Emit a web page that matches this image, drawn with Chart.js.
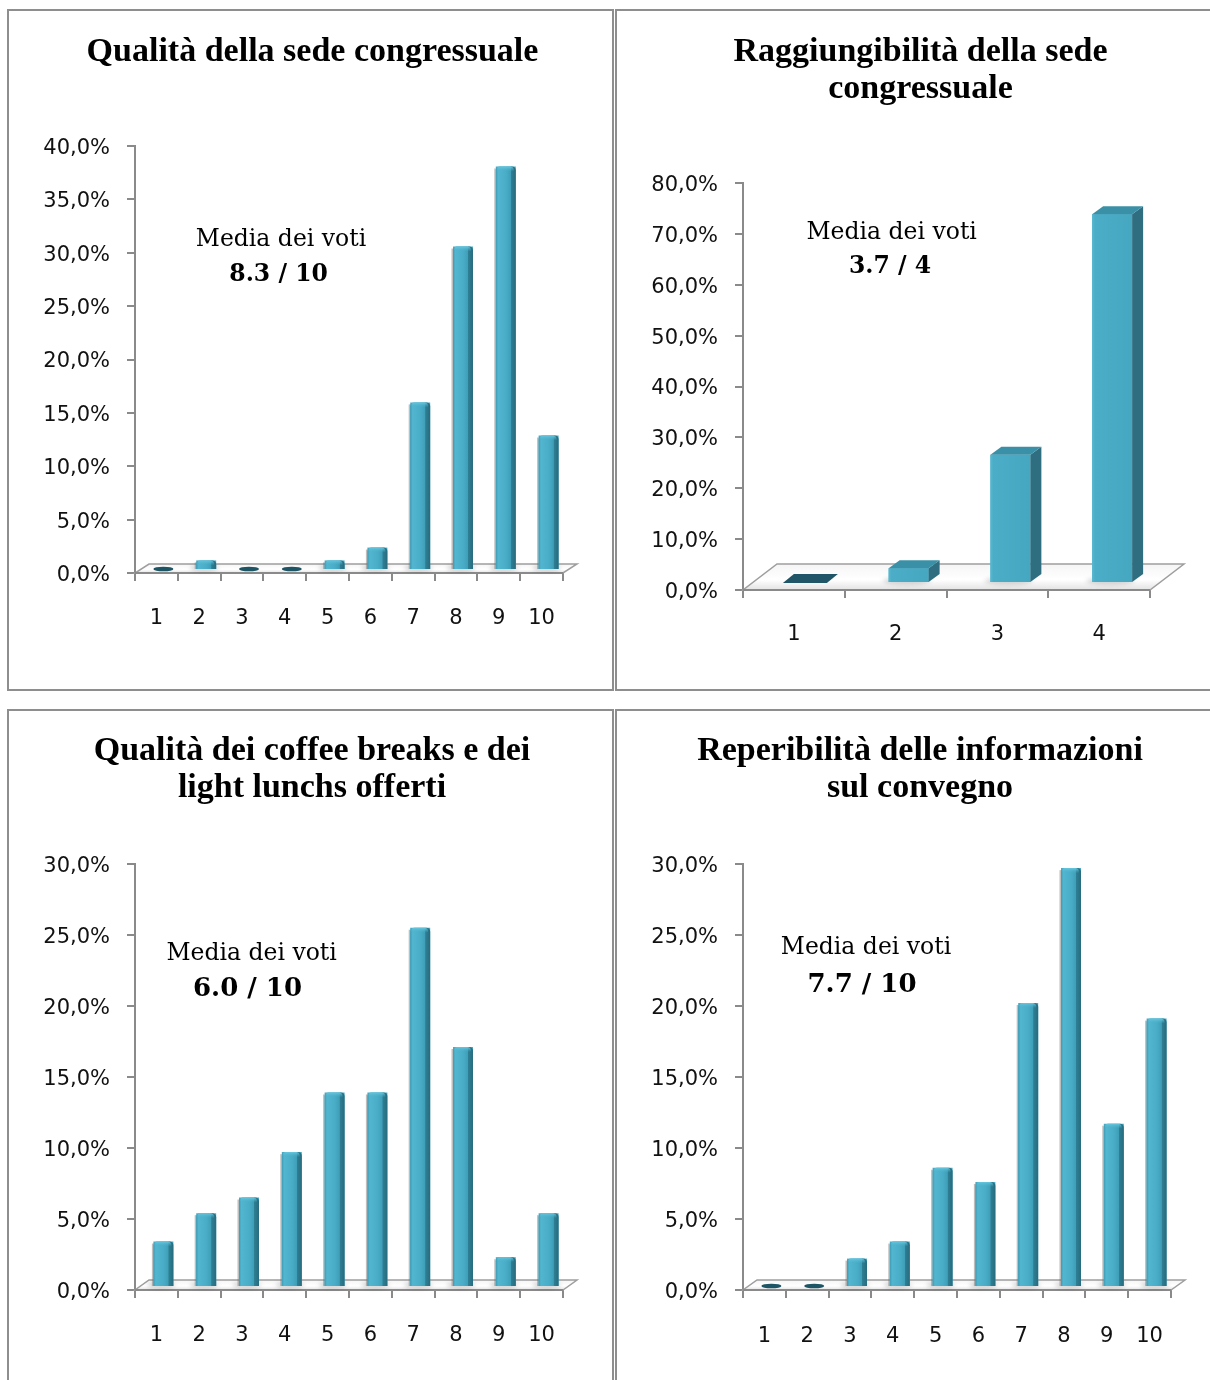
<!DOCTYPE html>
<html><head><meta charset="utf-8">
<script src="https://cdn.jsdelivr.net/npm/chart.js@4"></script>
<style>
html,body{margin:0;padding:0;background:#fff;overflow:hidden;width:1210px;height:1380px;}
.panel{position:absolute;overflow:hidden;}
.frame{position:absolute;border:2px solid #8e8e8e;box-sizing:border-box;pointer-events:none;}
canvas{position:absolute;left:0;top:0;}
</style></head><body>
<div class="panel" style="left:8px;top:10px;width:606px;height:680px"><canvas id="c1" width="606" height="680"></canvas></div>
<div class="panel" style="left:616px;top:10px;width:606px;height:680px"><canvas id="c2" width="606" height="680"></canvas></div>
<div class="panel" style="left:8px;top:709px;width:606px;height:671px"><canvas id="c3" width="606" height="671"></canvas></div>
<div class="panel" style="left:616px;top:709px;width:606px;height:671px"><canvas id="c4" width="606" height="671"></canvas></div>
<div class="frame" style="left:7px;top:9px;width:607px;height:682px"></div>
<div class="frame" style="left:615px;top:9px;width:610px;height:682px"></div>
<div class="frame" style="left:7px;top:709px;width:607px;height:700px"></div>
<div class="frame" style="left:615px;top:709px;width:610px;height:700px"></div>
<script>
// ---------------- DATA ----------------
const categories10 = ['1','2','3','4','5','6','7','8','9','10'];
const categories4 = ['1','2','3','4'];
const sedeValues = [0, 0.9, 0, 0, 0.9, 2.1, 15.7, 30.3, 37.8, 12.6];
const raggiungibilitaValues = [0, 2.9, 25.2, 72.5];
const coffeeValues = [3.2, 5.2, 6.3, 9.5, 13.7, 13.7, 25.3, 16.9, 2.1, 5.2];
const informazioniValues = [0, 0, 2.0, 3.2, 8.4, 7.4, 20.0, 29.5, 11.5, 18.9];
const ticks40 = ['0,0%','5,0%','10,0%','15,0%','20,0%','25,0%','30,0%','35,0%','40,0%'];
const ticks80 = ['0,0%','10,0%','20,0%','30,0%','40,0%','50,0%','60,0%','70,0%','80,0%'];
const ticks30 = ['0,0%','5,0%','10,0%','15,0%','20,0%','25,0%','30,0%'];
const titleSede = ['Qualità della sede congressuale'];
const titleRaggiungibilita = ['Raggiungibilità della sede','congressuale'];
const titleCoffee = ['Qualità dei coffee breaks e dei','light lunchs offerti'];
const titleInformazioni = ['Reperibilità delle informazioni','sul convegno'];
const mediaLabel = 'Media dei voti';
const mediaSede = '8.3 / 10';
const mediaRaggiungibilita = '3.7 / 4';
const mediaCoffee = '6.0 / 10';
const mediaInformazioni = '7.7 / 10';

// ---------------- STYLE ----------------
const AXIS = '#8a8a8a';
const BAR = '#4bacc6';
const tickFont = {family: 'DejaVu Sans', size: 21};

function drawCyl(ctx, x, y, base, w) {
  const l = x - w / 2, h = base - y;
  if (h < 1) {
    ctx.fillStyle = '#1d5565';
    ctx.beginPath(); ctx.ellipse(x, base - 1, w / 2, 2.3, 0, 0, Math.PI * 2); ctx.fill();
    return;
  }
  ctx.fillStyle = 'rgba(110,110,110,0.45)';
  ctx.fillRect(l - 1.5, y + 2, 1.5, h - 2);
  const g = ctx.createLinearGradient(l, 0, l + w, 0);
  g.addColorStop(0, '#3e9ab3'); g.addColorStop(0.12, '#53b6d0'); g.addColorStop(0.5, '#4aadc7');
  g.addColorStop(0.74, '#3f9fb9'); g.addColorStop(0.77, '#2f7f94'); g.addColorStop(1, '#276b7d');
  ctx.fillStyle = g;
  ctx.beginPath(); ctx.roundRect(l, y, w, h, [4, 4, 0, 0]); ctx.fill();
  const cg = ctx.createLinearGradient(0, y, 0, y + 5);
  cg.addColorStop(0, '#66c7df'); cg.addColorStop(1, 'rgba(75,172,198,0)');
  ctx.fillStyle = cg;
  ctx.beginPath(); ctx.roundRect(l + 1, y, w - 3, Math.min(5, h), [4, 4, 0, 0]); ctx.fill();
}

function poly(ctx, pts, color) {
  ctx.fillStyle = color; ctx.beginPath();
  pts.forEach((p, i) => i ? ctx.lineTo(p[0], p[1]) : ctx.moveTo(p[0], p[1]));
  ctx.closePath(); ctx.fill();
}

function drawBox(ctx, x, y, base, w, sd, st) {
  const l = x - w / 2, r = x + w / 2, h = base - y;
  if (h < 1) {
    poly(ctx, [[l - 4, base], [r, base], [r + sd, base - st - 1], [l + sd - 4, base - st - 1]], '#1f5566');
    return;
  }
  const g = ctx.createLinearGradient(l, 0, r, 0);
  g.addColorStop(0, '#58b9d2'); g.addColorStop(0.07, '#4badc7'); g.addColorStop(1, '#46a7c1');
  ctx.fillStyle = g; ctx.fillRect(l, y, w, h);
  poly(ctx, [[r, y], [r + sd, y - st], [r + sd, base - st], [r, base]], '#2e6e80');
  poly(ctx, [[l, y], [r, y], [r + sd, y - st], [l + sd, y - st]], '#3a90a7');
}

const bars3d = {
  id: 'bars3d',
  beforeDatasetsDraw(chart, args, o) {
    const {ctx, chartArea: a} = chart;
    ctx.save();
    ctx.beginPath();
    ctx.moveTo(a.left, a.bottom); ctx.lineTo(a.right, a.bottom);
    ctx.lineTo(a.right + o.fdx, a.bottom + o.fdy); ctx.lineTo(a.left + o.fdx, a.bottom + o.fdy);
    ctx.closePath();
    const g = ctx.createLinearGradient(0, a.bottom + o.fdy, 0, a.bottom);
    g.addColorStop(0, '#f5f5f5'); g.addColorStop(0.6, '#ffffff'); g.addColorStop(1, '#e2e2e2');
    ctx.fillStyle = g; ctx.fill();
    ctx.strokeStyle = '#9e9e9e'; ctx.lineWidth = 1.5; ctx.stroke();
    ctx.beginPath(); ctx.moveTo(a.left, a.bottom); ctx.lineTo(a.right, a.bottom);
    ctx.strokeStyle = AXIS; ctx.lineWidth = 2; ctx.stroke();
    ctx.restore();
    ctx.save();
    ctx.translate(o.dx, o.dy);
    const meta = chart.getDatasetMeta(0);
    ctx.save();
    ctx.filter = 'blur(2px)';
    ctx.fillStyle = 'rgba(0,0,0,0.16)';
    meta.data.forEach(el => {
      const p = el.getProps(['x', 'y', 'base', 'width'], true);
      if (p.base - p.y < 1) return;
      ctx.beginPath();
      ctx.ellipse(p.x - 2, p.base - 1, p.width / 2 + 4, 3.5, 0, 0, Math.PI * 2);
      ctx.fill();
    });
    ctx.restore();
  },
  afterDatasetsDraw(chart, args, o) {
    const ctx = chart.ctx;
    const meta = chart.getDatasetMeta(0);
    meta.data.forEach(el => {
      const p = el.getProps(['x', 'y', 'base', 'width'], true);
      if (o.style === 'box') drawBox(ctx, p.x, p.y, p.base, p.width, o.sd, o.st);
      else drawCyl(ctx, p.x, p.y, p.base, p.width);
    });
    ctx.restore();
  }
};

const texts = {
  id: 'texts',
  afterDraw(chart, args, o) {
    const ctx = chart.ctx;
    ctx.save();
    ctx.fillStyle = '#000';
    ctx.textAlign = 'center';
    ctx.textBaseline = 'alphabetic';
    ctx.font = 'bold 34px "Liberation Serif"';
    o.title.forEach((t, i) => ctx.fillText(t, o.tx, o.ty[i]));
    ctx.font = '23.5px "DejaVu Serif"';
    ctx.fillText(o.label, o.mx, o.my);
    ctx.font = 'bold ' + o.vsize + 'px "DejaVu Serif"';
    ctx.fillText(o.value, o.vx, o.vy);
    ctx.restore();
  }
};

function makeChart(id, c) {
  const canvas = document.getElementById(id);
  const W = canvas.width, H = canvas.height;
  return new Chart(canvas, {
    type: 'bar',
    data: {
      labels: c.labels,
      datasets: [{data: c.values, backgroundColor: BAR, borderWidth: 0,
        barPercentage: c.barPct, categoryPercentage: 1, clip: false}]
    },
    options: {
      responsive: false, animation: false, devicePixelRatio: 1,
      layout: {padding: {left: 0, top: c.area.top, right: W - c.area.right, bottom: 0}},
      plugins: {
        legend: {display: false}, tooltip: {enabled: false}, title: {display: false},
        bars3d: c.bars, texts: c.texts
      },
      scales: {
        x: {
          grid: {drawOnChartArea: false, drawTicks: true, tickLength: 8, color: AXIS, lineWidth: 2, offset: true},
          border: {color: AXIS, width: 2},
          ticks: {font: tickFont, color: '#111', padding: c.xpad, maxRotation: 0, autoSkip: false},
          afterFit(s) { s.height = H - c.area.bottom; }
        },
        y: {
          min: 0, max: c.max,
          grid: {drawOnChartArea: false, drawTicks: true, tickLength: 8, color: AXIS, lineWidth: 2},
          border: {color: AXIS, width: 2},
          ticks: {stepSize: c.step, font: tickFont, color: '#111', padding: 17, labelOffset: 2.5,
            callback: (v, i) => c.ticks[i]},
          afterFit(s) { s.width = c.area.left; }
        }
      }
    },
    plugins: [bars3d, texts]
  });
}

makeChart('c1', {
  labels: categories10, values: sedeValues, ticks: ticks40, max: 40, step: 5,
  area: {left: 127, top: 136, right: 555, bottom: 563}, barPct: 0.467, xpad: 25,
  bars: {fdx: 14, fdy: -9, dx: 7, dy: -3, style: 'cyl'},
  texts: {title: titleSede, tx: 304.5, ty: [51], label: mediaLabel, mx: 273, my: 236,
    value: mediaSede, vx: 270.6, vy: 270.7, vsize: 23.5}
});
makeChart('c2', {
  labels: categories4, values: raggiungibilitaValues, ticks: ticks80, max: 80, step: 10,
  area: {left: 127, top: 173, right: 534, bottom: 580}, barPct: 0.393, xpad: 24,
  bars: {fdx: 34, fdy: -26, dx: 13, dy: -7, style: 'box', sd: 11, st: 8},
  texts: {title: titleRaggiungibilita, tx: 304.5, ty: [51, 88], label: mediaLabel, mx: 275.7, my: 228.8,
    value: mediaRaggiungibilita, vx: 274, vy: 263, vsize: 23.5}
});
makeChart('c3', {
  labels: categories10, values: coffeeValues, ticks: ticks30, max: 30, step: 5,
  area: {left: 127, top: 155, right: 555, bottom: 581}, barPct: 0.467, xpad: 25,
  bars: {fdx: 14, fdy: -10, dx: 7, dy: -3, style: 'cyl'},
  texts: {title: titleCoffee, tx: 304, ty: [50.6, 87.6], label: mediaLabel, mx: 243.6, my: 250.6,
    value: mediaCoffee, vx: 239.5, vy: 287, vsize: 26}
});
makeChart('c4', {
  labels: categories10, values: informazioniValues, ticks: ticks30, max: 30, step: 5,
  area: {left: 127, top: 155, right: 555, bottom: 581}, barPct: 0.467, xpad: 26,
  bars: {fdx: 14, fdy: -10, dx: 7, dy: -3, style: 'cyl'},
  texts: {title: titleInformazioni, tx: 304, ty: [50.6, 87.6], label: mediaLabel, mx: 250, my: 245,
    value: mediaInformazioni, vx: 246, vy: 282.8, vsize: 26}
});
</script>
</body></html>
